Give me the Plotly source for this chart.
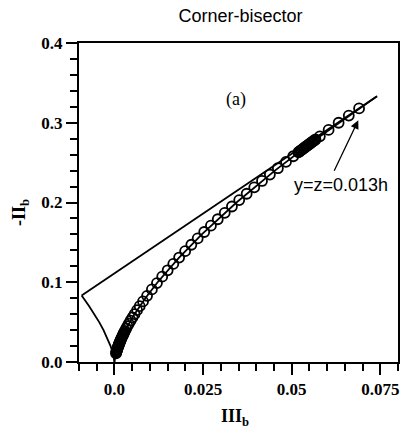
import plotly.graph_objects as go

# Anisotropy invariants along the corner bisector
iii_b = [0.000444, 0.000506, 0.000571, 0.000638, 0.000707, 0.000779, 0.000853,
         0.000930, 0.001008, 0.001089, 0.001171, 0.001256, 0.001343, 0.001431,
         0.001521, 0.001614, 0.001708, 0.001852, 0.002000, 0.002152, 0.002307,
         0.002466, 0.002629, 0.002795, 0.002964, 0.003313, 0.003674, 0.004048,
         0.004564, 0.005101, 0.005657, 0.006378, 0.007128,
         0.008064, 0.009204, 0.010566, 0.011989, 0.013472, 0.015010, 0.016604,
         0.018250, 0.019947, 0.021693, 0.023488, 0.025329, 0.027217, 0.029149,
         0.031125, 0.033144, 0.035204, 0.037306, 0.039447, 0.041629, 0.043848,
         0.046106, 0.048402, 0.050441, 0.051914, 0.052210, 0.052507, 0.052805,
         0.053103, 0.053401, 0.053700, 0.054000, 0.054300, 0.054602, 0.054903,
         0.055204, 0.055507, 0.055810, 0.056114, 0.056418, 0.056722, 0.057947,
         0.060421, 0.063246, 0.066113, 0.069022]
neg_ii_b = [0.011, 0.012, 0.013, 0.014, 0.015, 0.016, 0.017,
            0.018, 0.019, 0.020, 0.021, 0.022, 0.023, 0.024,
            0.025, 0.026, 0.027, 0.0285, 0.030, 0.0315, 0.033,
            0.0345, 0.036, 0.0375, 0.039, 0.042, 0.045, 0.048,
            0.052, 0.056, 0.060, 0.065, 0.070,
            0.076, 0.083, 0.091, 0.099, 0.107, 0.115, 0.123,
            0.131, 0.139, 0.147, 0.155, 0.163, 0.171, 0.179,
            0.187, 0.195, 0.203, 0.211, 0.219, 0.227, 0.235,
            0.243, 0.251, 0.258, 0.263, 0.264, 0.265, 0.266,
            0.267, 0.268, 0.269, 0.270, 0.271, 0.272, 0.273,
            0.274, 0.275, 0.276, 0.277, 0.278, 0.279, 0.283,
            0.291, 0.300, 0.309, 0.318]

# Realizability triangle boundaries
two_comp_iii = [-0.009259, 0.074074]
two_comp_ii = [0.083333, 0.333333]
axi_contr_iii = [0.0, -0.000136, -0.000385, -0.001089, -0.002000, -0.003079,
                 -0.004303, -0.005657, -0.007128, -0.008709, -0.009259]
axi_contr_ii = [0.0, 0.005, 0.010, 0.020, 0.030, 0.040, 0.050, 0.060, 0.070,
                0.080, 0.083333]
axi_exp_iii = [0.0, 0.000136, 0.000385, 0.001089, 0.003079, 0.005657, 0.008709,
               0.012172, 0.018041, 0.024634, 0.034427, 0.045255, 0.057028, 0.074074]
axi_exp_ii = [0.0, 0.005, 0.010, 0.020, 0.040, 0.060, 0.080, 0.100, 0.130,
              0.160, 0.200, 0.240, 0.280, 0.333333]

x_ticks = [0.0, 0.025, 0.05, 0.075]
x_tick_text = ["<b>0.0</b>", "<b>0.025</b>", "<b>0.05</b>", "<b>0.075</b>"]
y_ticks = [0.0, 0.1, 0.2, 0.3, 0.4]
y_tick_text = ["<b>0.0</b>", "<b>0.1</b>", "<b>0.2</b>", "<b>0.3</b>", "<b>0.4</b>"]

line_style = dict(color="black", width=1.8)

fig = go.Figure()
for xs, ys in [(two_comp_iii, two_comp_ii), (axi_contr_iii, axi_contr_ii),
               (axi_exp_iii, axi_exp_ii)]:
    fig.add_trace(go.Scatter(x=xs, y=ys, mode="lines", line=line_style,
                             showlegend=False, hoverinfo="skip"))

fig.add_trace(go.Scatter(
    x=iii_b, y=neg_ii_b, mode="markers", showlegend=False,
    marker=dict(symbol="circle-open", size=10, color="black",
                line=dict(color="black", width=1.8)),
))

serif = "Liberation Serif"
sans = "Liberation Sans"

fig.update_layout(
    width=401, height=434,
    margin=dict(l=79, r=1, t=43, b=72),
    paper_bgcolor="white", plot_bgcolor="white",
    title=dict(text="Corner-bisector", x=0.6, xanchor="center", y=0.963,
               yanchor="middle", font=dict(family=sans, size=18, color="black")),
    xaxis=dict(
        range=[-0.01, 0.08], showgrid=False, zeroline=False,
        showline=True, mirror=True, linecolor="black", linewidth=2,
        tickmode="array", tickvals=x_ticks, ticktext=x_tick_text,
        ticks="outside", ticklen=11, tickwidth=2, tickcolor="black",
        minor=dict(dtick=0.005, tick0=0, ticks="outside", ticklen=7,
                   tickwidth=1.5, tickcolor="black"),
        tickfont=dict(family=serif, size=17, color="black"),
    ),
    yaxis=dict(
        range=[0, 0.4], showgrid=False, zeroline=False,
        showline=True, mirror=True, linecolor="black", linewidth=2,
        tickmode="array", tickvals=y_ticks, ticktext=y_tick_text,
        ticks="outside", ticklen=11, tickwidth=2, tickcolor="black",
        minor=dict(dtick=0.02, tick0=0, ticks="outside", ticklen=7,
                   tickwidth=1.5, tickcolor="black"),
        tickfont=dict(family=serif, size=17, color="black"),
    ),
    annotations=[
        dict(text="<b>III</b><sub><b>b</b></sub>", xref="paper", yref="paper",
             x=0.49, y=-0.175, xanchor="center", yanchor="middle", showarrow=False,
             font=dict(family=serif, size=18, color="black")),
        dict(text="<b>-II</b><sub><b>b</b></sub>", xref="paper", yref="paper",
             x=-0.185, y=0.47, xanchor="center", yanchor="middle", showarrow=False,
             textangle=-90, font=dict(family=serif, size=18, color="black")),
        dict(text="(a)", xref="x", yref="y", x=0.0344, y=0.329,
             xanchor="center", yanchor="middle", showarrow=False,
             font=dict(family=serif, size=18, color="black")),
        dict(text="y=z=0.013h", xref="x", yref="y", x=0.0640, y=0.222,
             xanchor="center", yanchor="middle", showarrow=False,
             font=dict(family=sans, size=18, color="black")),
        dict(text="", xref="x", yref="y", x=0.0688, y=0.303,
             axref="x", ayref="y", ax=0.0618, ay=0.238,
             showarrow=True, arrowhead=2, arrowsize=1.3, arrowwidth=1.3,
             arrowcolor="black"),
    ],
)

fig.write_html("out.html")
